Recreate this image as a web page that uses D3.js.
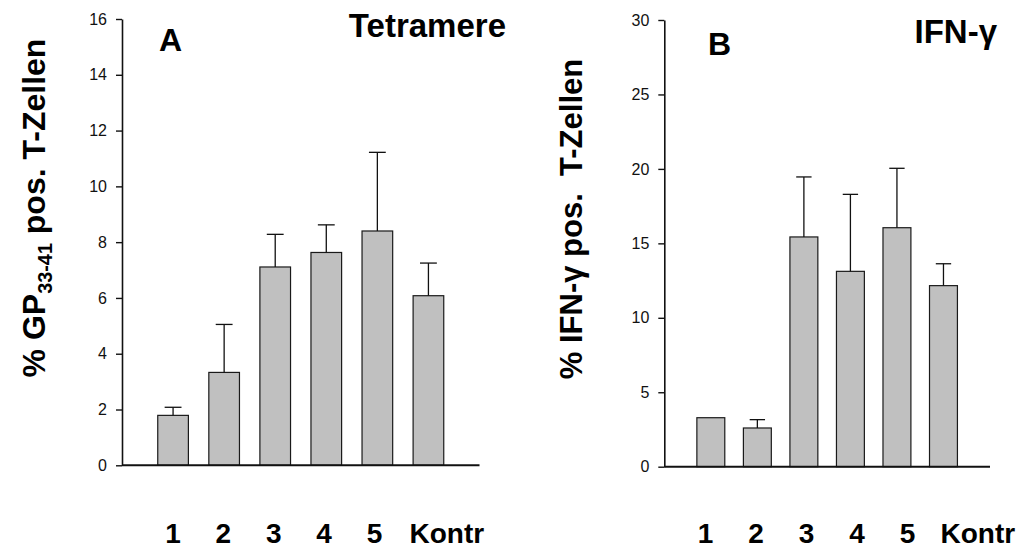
<!DOCTYPE html>
<html><head><meta charset="utf-8">
<script src="https://cdn.jsdelivr.net/npm/d3@7"></script>
<style>
html,body{margin:0;padding:0;background:#fff;}
svg{display:block;font-family:"Liberation Sans",Arial,sans-serif;}
</style></head><body>
<svg id="chart" width="1020" height="551"></svg>
<script>
// ---- data ----
const categories = ["1", "2", "3", "4", "5", "Kontr"];
const tetramereMeans = [1.79, 3.33, 7.11, 7.63, 8.40, 6.08];
const tetramereErrTop = [2.08, 5.05, 8.28, 8.62, 11.22, 7.25];
const ifnMeans = [3.29, 2.60, 15.43, 13.12, 16.05, 12.16];
const ifnErrTop = [null, 3.16, 19.46, 18.29, 20.04, 13.63];
const tetramereTicks = [0, 2, 4, 6, 8, 10, 12, 14, 16];
const ifnTicks = [0, 5, 10, 15, 20, 25, 30];

const svg = d3.select("#chart");

function panel(cfg) {
  const g = svg.append("g");
  const x = d3.scaleLinear().domain([0, categories.length + 1]).range([cfg.x0, cfg.x1]);
  const y = d3.scaleLinear().domain(cfg.yDomain).range([cfg.y0, cfg.yTop]);
  const step = x(1) - x(0);
  const bw = step * 0.6;
  const capW = bw * 0.55;

  // bars
  g.selectAll("rect.bar").data(cfg.means).join("rect")
    .attr("class", "bar")
    .attr("x", (d, i) => x(i + 1) - bw / 2)
    .attr("y", d => y(d))
    .attr("width", bw)
    .attr("height", d => y(0) - y(d))
    .attr("fill", "#c0c0c0")
    .attr("stroke", "#1a1a1a")
    .attr("stroke-width", 1.2);

  // error bars (upper only)
  const errs = cfg.errTop.map((e, i) => ({ i, e, m: cfg.means[i] })).filter(d => d.e != null);
  g.selectAll("line.err").data(errs).join("line")
    .attr("class", "err")
    .attr("x1", d => x(d.i + 1)).attr("x2", d => x(d.i + 1))
    .attr("y1", d => y(d.m)).attr("y2", d => y(d.e))
    .attr("stroke", "#111").attr("stroke-width", 1.3);
  g.selectAll("line.cap").data(errs).join("line")
    .attr("class", "cap")
    .attr("x1", d => x(d.i + 1) - capW / 2).attr("x2", d => x(d.i + 1) + capW / 2)
    .attr("y1", d => y(d.e)).attr("y2", d => y(d.e))
    .attr("stroke", "#111").attr("stroke-width", 1.3);

  // y axis
  const ya = g.append("g").attr("transform", `translate(${cfg.x0},0)`)
    .call(d3.axisLeft(y).tickValues(cfg.ticks).tickSize(6).tickSizeOuter(0).tickPadding(9));
  ya.select(".domain").attr("stroke", "#111").attr("stroke-width", 1.6);
  ya.selectAll(".tick line").attr("stroke", "#111").attr("stroke-width", 1.4);
  ya.selectAll(".tick text").attr("font-size", 16).attr("fill", "#111")
    .attr("font-family", "Liberation Sans, Arial, sans-serif");

  // x axis line
  g.append("line")
    .attr("x1", cfg.x0).attr("x2", cfg.x1)
    .attr("y1", y(0)).attr("y2", y(0))
    .attr("stroke", "#111").attr("stroke-width", 2);

  // category labels
  const lx = d3.scaleLinear().domain([1, 5]).range(cfg.labelRange);
  g.selectAll("text.cat").data(categories).join("text")
    .attr("class", "cat")
    .attr("x", (d, i) => i < 5 ? lx(i + 1) : lx(5) + cfg.kontrGap)
    .attr("y", cfg.labelY)
    .attr("text-anchor", (d, i) => i < 5 ? "middle" : "start")
    .attr("font-size", 28).attr("font-weight", "bold")
    .text(d => d);

  // panel letter
  g.append("text").attr("x", cfg.letterX).attr("y", cfg.letterY)
    .attr("font-size", 32).attr("font-weight", "bold").text(cfg.letter);
  // title
  g.append("text").attr("x", cfg.titleX).attr("y", cfg.titleY)
    .attr("text-anchor", "end")
    .attr("font-size", 33).attr("font-weight", "bold").text(cfg.title);

  // y label
  const yl = g.append("text")
    .attr("transform", `translate(${cfg.ylabelX},${cfg.ylabelY}) rotate(-90)`)
    .attr("text-anchor", "middle")
    .attr("font-size", cfg.ylabelSize).attr("font-weight", "bold");
  cfg.ylabelParts.forEach(p => {
    const t = yl.append("tspan").text(p.t);
    if (p.sub) t.attr("font-size", cfg.ylabelSize * 0.62).attr("dy", 7);
    if (p.after) t.attr("dy", -7);
  });
}

panel({
  x0: 122, x1: 479.5, y0: 465.3, yTop: 19, yDomain: [0, 16],
  means: tetramereMeans, errTop: tetramereErrTop, ticks: tetramereTicks,
  labelRange: [173, 374.5], kontrGap: 35, labelY: 543,
  letter: "A", letterX: 159, letterY: 50.5,
  title: "Tetramere", titleX: 506, titleY: 37,
  ylabelX: 45, ylabelY: 208, ylabelSize: 32,
  ylabelParts: [{ t: "% GP" }, { t: "33-41", sub: true }, { t: " pos. T-Zellen", after: true }]
});

panel({
  x0: 664.3, x1: 990, y0: 466.7, yTop: 20, yDomain: [0, 30],
  means: ifnMeans, errTop: ifnErrTop, ticks: ifnTicks,
  labelRange: [705.5, 907.5], kontrGap: 33, labelY: 543,
  letter: "B", letterX: 708, letterY: 55,
  title: "IFN-γ", titleX: 997, titleY: 43,
  ylabelX: 582, ylabelY: 219, ylabelSize: 31,
  ylabelParts: [{ t: "% IFN-γ pos.\u00a0\u00a0T-Zellen" }]
});
</script>
</body></html>
